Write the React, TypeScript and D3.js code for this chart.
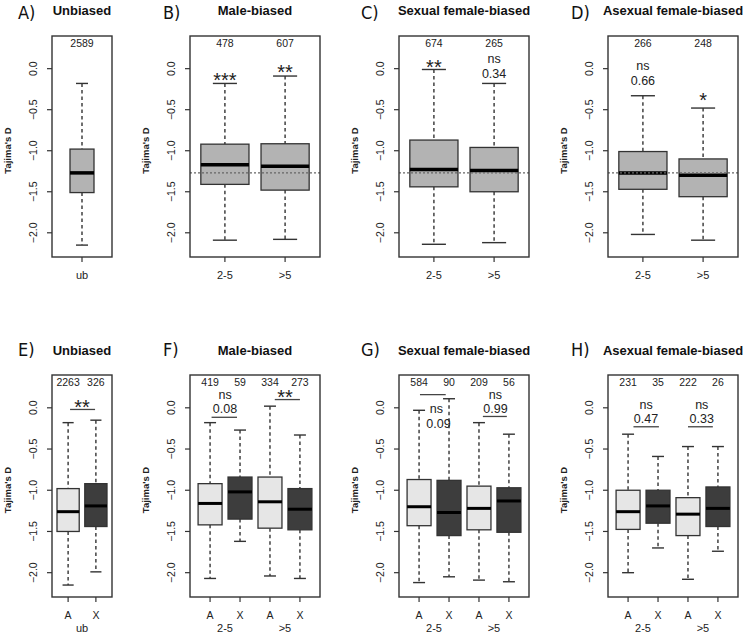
import React from "react";
import * as d3 from "d3";

// ---------------- DATA ----------------
// Box statistics per box: [lower whisker, Q1, median, Q3, upper whisker]
const yTicks = [0, -0.5, -1, -1.5, -2];
const unbiasedRefMedian = -1.27;

const aLabels = ["ub"];
const aCounts = [2589];
const aStats = [[-2.15, -1.51, -1.27, -0.98, -0.18]];

const bLabels = ["2-5", ">5"];
const bCounts = [478, 607];
const bStats = [
  [-2.09, -1.41, -1.17, -0.92, -0.18],
  [-2.08, -1.48, -1.19, -0.915, -0.09],
];
const bSignif = ["***", "**"];

const cLabels = ["2-5", ">5"];
const cCounts = [674, 265];
const cStats = [
  [-2.14, -1.44, -1.23, -0.87, -0.01],
  [-2.12, -1.5, -1.24, -0.96, -0.18],
];
const cSignif = ["**", "ns", "0.34"];

const dLabels = ["2-5", ">5"];
const dCounts = [266, 248];
const dStats = [
  [-2.02, -1.47, -1.27, -1.01, -0.33],
  [-2.09, -1.56, -1.3, -1.1, -0.48],
];
const dSignif = ["ns", "0.66", "*"];

const chromLabels2 = ["A", "X"];
const chromLabels4 = ["A", "X", "A", "X"];
const eGroups = ["ub"];
const eCounts = [2263, 326];
const eStats = [
  [-2.15, -1.5, -1.26, -0.98, -0.18],
  [-1.99, -1.44, -1.19, -0.92, -0.15],
];
const eSignif = ["**"];

const expGroups = ["2-5", ">5"];
const fCounts = [419, 59, 334, 273];
const fStats = [
  [-2.07, -1.42, -1.16, -0.92, -0.18],
  [-1.62, -1.35, -1.02, -0.84, -0.27],
  [-2.04, -1.46, -1.14, -0.84, 0.02],
  [-2.07, -1.48, -1.23, -0.98, -0.33],
];
const fSignif = ["ns", "0.08", "**"];

const gCounts = [584, 90, 209, 56];
const gStats = [
  [-2.12, -1.43, -1.2, -0.87, -0.03],
  [-2.05, -1.55, -1.27, -0.88, 0.11],
  [-2.09, -1.48, -1.22, -0.95, -0.18],
  [-2.11, -1.51, -1.13, -0.97, -0.32],
];
const gSignif = ["ns", "0.09", "ns", "0.99"];

const hCounts = [231, 35, 222, 26];
const hStats = [
  [-2.0, -1.475, -1.26, -1.0, -0.32],
  [-1.7, -1.4, -1.19, -1.0, -0.59],
  [-2.08, -1.55, -1.29, -1.09, -0.47],
  [-1.74, -1.44, -1.22, -0.96, -0.47],
];
const hSignif = ["ns", "0.47", "ns", "0.33"];

const titles = [
  "Unbiased",
  "Male-biased",
  "Sexual female-biased",
  "Asexual female-biased",
];
const lettersTop = ["A)", "B)", "C)", "D)"];
const lettersBottom = ["E)", "F)", "G)", "H)"];
const yAxisTitle = "Tajima's D";

// ---------------- LAYOUT / STYLE ----------------
const W = 749;
const H = 637;
const FONT = "'Liberation Sans', Arial, Helvetica, sans-serif";
const LETTER_FONT = "'DejaVu Sans Condensed', 'DejaVu Sans', sans-serif";
const Y_DOMAIN: [number, number] = [-2.295, 0.398];
const ROWS = [
  { y0: 36, y1: 257, letterY: 19, titleY: 15, median: 3.5 },
  { y0: 375, y1: 597, letterY: 356, titleY: 355, median: 3 },
];
const COLS = [
  { x0: 52, x1: 112, letterX: 18 },
  { x0: 190, x1: 320, letterX: 163 },
  { x0: 399, x1: 529, letterX: 361 },
  { x0: 608, x1: 738, letterX: 571 },
];
const MID_GRAY = "#b3b3b3";
const LIGHT = "#e6e6e6";
const DARK = "#3d3d3d";
const INK = "#333333";
const fmt = d3.format(".1f");

type Ann = { text: string; x: number; y: number; star?: boolean; size?: number };
type Bar = { x1: number; x2: number; y: number };

interface PanelProps {
  row: number;
  col: number;
  xDomain: [number, number];
  stats: number[][];
  fills: string[];
  counts: number[];
  xLabels: string[];
  groupLabels?: { text: string; x: number }[];
  refLine?: number;
  anns?: Ann[];
  bars?: Bar[];
  title: string;
  letter: string;
}

function Panel(p: PanelProps) {
  const R = ROWS[p.row];
  const C = COLS[p.col];
  const x = d3.scaleLinear().domain(p.xDomain).range([C.x0, C.x1]);
  const y = d3.scaleLinear().domain(Y_DOMAIN).range([R.y1, R.y0]);
  const unit = Math.abs(x(1) - x(0));
  const bw = unit * 0.8;
  const sw = bw / 2;
  const cx = (C.x0 + C.x1) / 2;
  const positions = p.stats.map((_, i) => i + 1);

  return (
    <g>
      {/* panel letter & title */}
      <text x={C.letterX} y={R.letterY} fontFamily={LETTER_FONT} fontSize={18} fill="#111">
        {p.letter}
      </text>
      <text x={cx} y={R.titleY} fontFamily={FONT} fontWeight="bold" fontSize={13} textAnchor="middle" fill="#111">
        {p.title}
      </text>

      {/* y axis */}
      {yTicks.map((t) => (
        <g key={t}>
          <line x1={C.x0 - 5} x2={C.x0} y1={y(t)} y2={y(t)} stroke={INK} strokeWidth={1.2} />
          <text
            transform={`translate(${C.x0 - 15},${y(t)}) rotate(-90)`}
            textAnchor="middle"
            fontFamily={FONT}
            fontSize={10.5}
            fill="#222"
          >
            {t === 0 ? "0.0" : fmt(t)}
          </text>
        </g>
      ))}
      <text
        transform={`translate(${C.x0 - 41},${(R.y0 + R.y1) / 2 + 4}) rotate(-90)`}
        textAnchor="middle"
        fontFamily={FONT}
        fontWeight="bold"
        fontSize={9.5}
        fill="#222"
      >
        {yAxisTitle}
      </text>

      {/* boxes */}
      {p.stats.map((s, i) => {
        const px = x(positions[i]);
        const [lo, q1, med, q3, hi] = s;
        return (
          <g key={i}>
            <line x1={px} x2={px} y1={y(hi)} y2={y(q3)} stroke={INK} strokeWidth={1.4} strokeDasharray="3.5,3" />
            <line x1={px} x2={px} y1={y(q1)} y2={y(lo)} stroke={INK} strokeWidth={1.4} strokeDasharray="3.5,3" />
            <line x1={px - sw / 2} x2={px + sw / 2} y1={y(hi)} y2={y(hi)} stroke={INK} strokeWidth={1.4} />
            <line x1={px - sw / 2} x2={px + sw / 2} y1={y(lo)} y2={y(lo)} stroke={INK} strokeWidth={1.4} />
            <rect
              x={px - bw / 2}
              y={y(q3)}
              width={bw}
              height={y(q1) - y(q3)}
              fill={p.fills[i]}
              stroke={INK}
              strokeWidth={1.3}
            />
            <line x1={px - bw / 2} x2={px + bw / 2} y1={y(med)} y2={y(med)} stroke="#000" strokeWidth={R.median} />
          </g>
        );
      })}

      {/* reference line (median of unbiased genes) */}
      {p.refLine !== undefined && (
        <line
          x1={C.x0}
          x2={C.x1}
          y1={y(p.refLine)}
          y2={y(p.refLine)}
          stroke="#666"
          strokeWidth={1.1}
          strokeDasharray="2,2"
        />
      )}

      {/* frame */}
      <rect x={C.x0} y={R.y0} width={C.x1 - C.x0} height={R.y1 - R.y0} fill="none" stroke={INK} strokeWidth={1.4} />

      {/* x ticks & labels */}
      {positions.map((pos, i) => (
        <g key={i}>
          <line x1={x(pos)} x2={x(pos)} y1={R.y1} y2={R.y1 + 5} stroke={INK} strokeWidth={1.2} />
          <text x={x(pos)} y={R.y1 + 22} textAnchor="middle" fontFamily={FONT} fontSize={p.groupLabels ? 10.5 : 11} fill="#222">
            {p.xLabels[i]}
          </text>
          <text x={x(pos)} y={R.y0 + 11} textAnchor="middle" fontFamily={FONT} fontSize={10.5} fill="#222">
            {p.counts[i]}
          </text>
        </g>
      ))}
      {p.groupLabels &&
        p.groupLabels.map((g, i) => (
          <text key={i} x={x(g.x)} y={R.y1 + 35} textAnchor="middle" fontFamily={FONT} fontSize={11} fill="#222">
            {g.text}
          </text>
        ))}

      {/* significance */}
      {(p.bars || []).map((b, i) => (
        <line key={i} x1={x(b.x1)} x2={x(b.x2)} y1={y(b.y)} y2={y(b.y)} stroke="#444" strokeWidth={1.3} />
      ))}
      {(p.anns || []).map((a, i) => {
        const size = a.size ?? (a.star ? 20 : 12.5);
        const base = y(a.y) + (a.star ? 0.57 : 0.33) * size;
        return (
          <text key={i} x={x(a.x)} y={base} textAnchor="middle" fontFamily={FONT} fontSize={size} fill="#222">
            {a.text}
          </text>
        );
      })}
    </g>
  );
}

export default function App() {
  return (
    <svg
      width={W}
      height={H}
      viewBox={`0 0 ${W} ${H}`}
      style={{ position: "absolute", left: 0, top: 0, background: "#fff" }}
    >
      <rect x={0} y={0} width={W} height={H} fill="#fff" />
      {/* Top row */}
      <Panel
        row={0}
        col={0}
        xDomain={[0, 2]}
        stats={aStats}
        fills={[MID_GRAY]}
        counts={aCounts}
        xLabels={aLabels}
        title={titles[0]}
        letter={lettersTop[0]}
      />
      <Panel
        row={0}
        col={1}
        xDomain={[0.42, 2.58]}
        stats={bStats}
        fills={[MID_GRAY, MID_GRAY]}
        counts={bCounts}
        xLabels={bLabels}
        refLine={unbiasedRefMedian}
        title={titles[1]}
        letter={lettersTop[1]}
        anns={[
          { text: bSignif[0], x: 1, y: -0.08, star: true },
          { text: bSignif[1], x: 2, y: 0.015, star: true },
        ]}
      />
      <Panel
        row={0}
        col={2}
        xDomain={[0.42, 2.58]}
        stats={cStats}
        fills={[MID_GRAY, MID_GRAY]}
        counts={cCounts}
        xLabels={cLabels}
        refLine={unbiasedRefMedian}
        title={titles[2]}
        letter={lettersTop[2]}
        anns={[
          { text: cSignif[0], x: 1, y: 0.077, star: true },
          { text: cSignif[1], x: 2, y: 0.115 },
          { text: cSignif[2], x: 2, y: -0.065 },
        ]}
      />
      <Panel
        row={0}
        col={3}
        xDomain={[0.42, 2.58]}
        stats={dStats}
        fills={[MID_GRAY, MID_GRAY]}
        counts={dCounts}
        xLabels={dLabels}
        refLine={unbiasedRefMedian}
        title={titles[3]}
        letter={lettersTop[3]}
        anns={[
          { text: dSignif[0], x: 1, y: 0.035 },
          { text: dSignif[1], x: 1, y: -0.145 },
          { text: dSignif[2], x: 2, y: -0.325, star: true },
        ]}
      />

      {/* Bottom row */}
      <Panel
        row={1}
        col={0}
        xDomain={[0.42, 2.58]}
        stats={eStats}
        fills={[LIGHT, DARK]}
        counts={eCounts}
        xLabels={chromLabels2}
        groupLabels={[{ text: eGroups[0], x: 1.5 }]}
        title={titles[0]}
        letter={lettersBottom[0]}
        anns={[{ text: eSignif[0], x: 1.5, y: 0.068, star: true }]}
        bars={[{ x1: 1.07, x2: 1.97, y: -0.02 }]}
      />
      <Panel
        row={1}
        col={1}
        xDomain={[0.33, 4.67]}
        stats={fStats}
        fills={[LIGHT, DARK, LIGHT, DARK]}
        counts={fCounts}
        xLabels={chromLabels4}
        groupLabels={[
          { text: expGroups[0], x: 1.5 },
          { text: expGroups[1], x: 3.5 },
        ]}
        title={titles[1]}
        letter={lettersBottom[1]}
        anns={[
          { text: fSignif[0], x: 1.5, y: 0.155 },
          { text: fSignif[1], x: 1.5, y: -0.015 },
          { text: fSignif[2], x: 3.5, y: 0.18, star: true },
        ]}
        bars={[
          { x1: 1.05, x2: 1.9, y: -0.115 },
          { x1: 3.16, x2: 4.0, y: 0.1 },
        ]}
      />
      <Panel
        row={1}
        col={2}
        xDomain={[0.33, 4.67]}
        stats={gStats}
        fills={[LIGHT, DARK, LIGHT, DARK]}
        counts={gCounts}
        xLabels={chromLabels4}
        groupLabels={[
          { text: expGroups[0], x: 1.5 },
          { text: expGroups[1], x: 3.5 },
        ]}
        title={titles[2]}
        letter={lettersBottom[2]}
        anns={[
          { text: gSignif[0], x: 1.58, y: -0.01 },
          { text: gSignif[1], x: 1.65, y: -0.2 },
          { text: gSignif[2], x: 3.55, y: 0.16 },
          { text: gSignif[3], x: 3.55, y: -0.015 },
        ]}
        bars={[
          { x1: 1.03, x2: 1.89, y: 0.16 },
          { x1: 3.13, x2: 3.93, y: -0.105 },
        ]}
      />
      <Panel
        row={1}
        col={3}
        xDomain={[0.33, 4.67]}
        stats={hStats}
        fills={[LIGHT, DARK, LIGHT, DARK]}
        counts={hCounts}
        xLabels={chromLabels4}
        groupLabels={[
          { text: expGroups[0], x: 1.5 },
          { text: expGroups[1], x: 3.5 },
        ]}
        title={titles[3]}
        letter={lettersBottom[3]}
        anns={[
          { text: hSignif[0], x: 1.6, y: 0.04 },
          { text: hSignif[1], x: 1.6, y: -0.14 },
          { text: hSignif[2], x: 3.46, y: 0.04 },
          { text: hSignif[3], x: 3.46, y: -0.14 },
        ]}
        bars={[
          { x1: 1.18, x2: 2.03, y: -0.23 },
          { x1: 3.0, x2: 3.83, y: -0.23 },
        ]}
      />
    </svg>
  );
}
